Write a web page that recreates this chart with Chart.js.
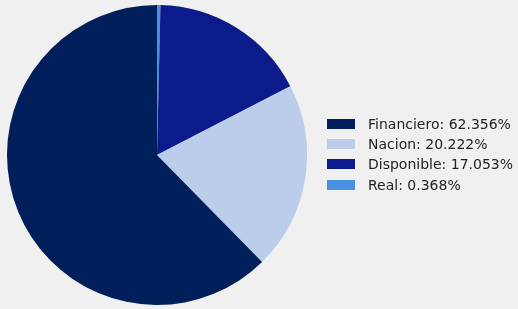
<!DOCTYPE html>
<html>
<head>
<meta charset="utf-8">
<script src="https://cdn.jsdelivr.net/npm/chart.js@4.4.0/dist/chart.umd.min.js"></script>
<style>
  html, body { margin: 0; padding: 0; background: #f0f0f0; }
  #wrap { position: relative; width: 518px; height: 309px; }
  #legend { position: absolute; left: 327px; top: 114px; margin: 0; padding: 0; list-style: none;
            font-family: 'DejaVu Sans', sans-serif; font-size: 14px; color: #222; }
  #legend li { height: 20.2px; display: flex; align-items: center; white-space: nowrap; }
  #legend .box { display: inline-block; width: 28px; height: 10px; margin-right: 13px; }
</style>
</head>
<body>
<div id="wrap">
  <canvas id="pieChart" width="518" height="309"></canvas>
  <ul id="legend"></ul>
</div>
<script>
// Slices in drawing order (clockwise from 12 o'clock), legend lists them reversed
const categories = ['Real', 'Disponible', 'Nacion', 'Financiero'];
const shares = [0.368, 17.053, 20.222, 62.356];
const sliceColors = ['#4a90e2', '#0c1b8c', '#bbcdea', '#011f5b'];

// builds the legend list next to the canvas from the chart's own legend items
const htmlLegend = {
    id: 'htmlLegend',
    afterUpdate(chart) {
        const ul = document.getElementById('legend');
        ul.innerHTML = '';
        const items = chart.options.plugins.legend.labels.generateLabels(chart).reverse();
        items.forEach(item => {
            const li = document.createElement('li');
            const box = document.createElement('span');
            box.className = 'box';
            box.style.background = item.fillStyle;
            const txt = document.createElement('span');
            txt.textContent = item.text;
            li.appendChild(box);
            li.appendChild(txt);
            ul.appendChild(li);
        });
    }
};

document.addEventListener("DOMContentLoaded", () => {
    const ctx = document.getElementById('pieChart').getContext('2d');

    const labels = categories.map((c, i) => `${c}: ${shares[i].toFixed(3)}%`);

    new Chart(ctx, {
        type: 'pie',
        data: {
            labels: labels,
            datasets: [{
                data: shares,
                backgroundColor: sliceColors,
                borderWidth: 0
            }]
        },
        options: {
            responsive: false,
            animation: false,
            layout: { padding: { top: 5, bottom: 4, left: 0, right: 204 } },
            plugins: {
                legend: { display: false },
                tooltip: { enabled: false }
            }
        },
        plugins: [htmlLegend]
    });
});
</script>
</body>
</html>
